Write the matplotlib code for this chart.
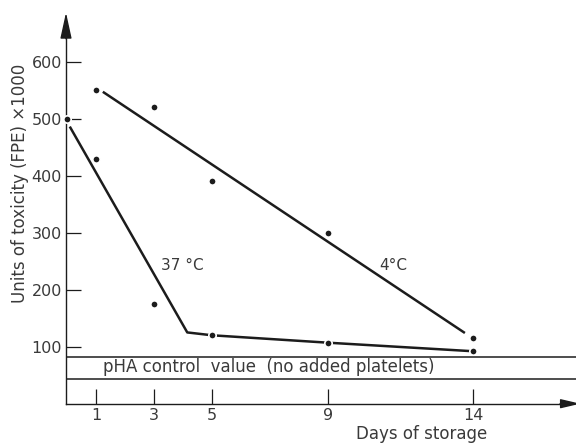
import matplotlib
matplotlib.use("Agg")
import matplotlib.pyplot as plt

# measured points
warm_days = [0, 1, 3, 5, 9, 14]
warm_vals = [500, 430, 175, 120, 107, 92]
cold_days = [1, 3, 5, 9, 14]
cold_vals = [550, 521, 391, 300, 116]

# hand-drawn trend lines
warm_fit_days = [0.1, 4.15, 5, 9, 14]
warm_fit_vals = [486, 125, 120, 107, 92]
cold_fit_days = [1.24, 13.72]
cold_fit_vals = [547, 124]

control_band = [43, 82]
x_ticks = [1, 3, 5, 9, 14]
y_ticks = [100, 200, 300, 400, 500, 600]

INK = "#1c1c1c"
TXT = "#3a3a3a"

plt.rcParams["font.family"] = ["DejaVu Sans"]

fig = plt.figure(figsize=(5.76, 4.44), dpi=100)
ax = fig.add_axes([66 / 576, (444 - 403.7) / 444, 1 - 66 / 576, 403.7 / 444])
ax.set_xlim(-0.03, 17.55)
ax.set_ylim(0, 708)

for s in ("top", "right"):
    ax.spines[s].set_visible(False)
ax.spines["left"].set_bounds(0, 648)
ax.spines["bottom"].set_bounds(-0.03, 17.1)
for s in ("left", "bottom"):
    ax.spines[s].set_color(INK)
    ax.spines[s].set_linewidth(1.0)

# axis arrows
ax.annotate("", xy=(-0.03, 686), xytext=(-0.03, 640), annotation_clip=False,
            arrowprops=dict(arrowstyle="-|>,head_length=1.6,head_width=0.35",
                            color=INK, lw=1.0, shrinkA=0, shrinkB=0, mutation_scale=10))
ax.annotate("", xy=(17.7, 0), xytext=(17.0, 0), annotation_clip=False,
            arrowprops=dict(arrowstyle="-|>,head_length=1.2,head_width=0.28",
                            color=INK, lw=1.0, shrinkA=0, shrinkB=0, mutation_scale=10))

ax.set_xticks(x_ticks)
ax.set_yticks(y_ticks)
ax.tick_params(direction="in", length=10.5, width=0.9, color=INK,
               labelsize=11.5, labelcolor=TXT, pad=3)

# control value band
for v in control_band:
    ax.axhline(v, color=INK, lw=1.1, xmin=0, xmax=1)
ax.text(1.24, sum(control_band) / 2 + 1, "pHA control  value  (no added platelets)",
        fontsize=12, color=TXT, va="center", ha="left")

# trend lines
ax.plot(warm_fit_days, warm_fit_vals, color=INK, lw=1.8, solid_capstyle="butt")
ax.plot(cold_fit_days, cold_fit_vals, color=INK, lw=1.8, solid_capstyle="butt")

# points
ax.plot(warm_days, warm_vals, "o", ms=5.3, color=INK, mec="white", mew=1.2,
        clip_on=False, zorder=5)
ax.plot(cold_days, cold_vals, "o", ms=5.3, color=INK, mec="white", mew=1.2,
        clip_on=False, zorder=5)

ax.text(3.24, 243, "37 °C", fontsize=11, color=TXT, va="center", ha="left")
ax.text(10.76, 243, "4°C", fontsize=11, color=TXT, va="center", ha="left")

fig.text(20 / 576, 1 - 183 / 444, "Units of toxicity (FPE) ×1000", rotation=90,
         fontsize=12, color=TXT, ha="center", va="center")
fig.text(422 / 576, 1.5 / 444, "Days of storage", fontsize=12, color=TXT,
         ha="center", va="bottom")

fig.savefig("out.png", dpi=100)
